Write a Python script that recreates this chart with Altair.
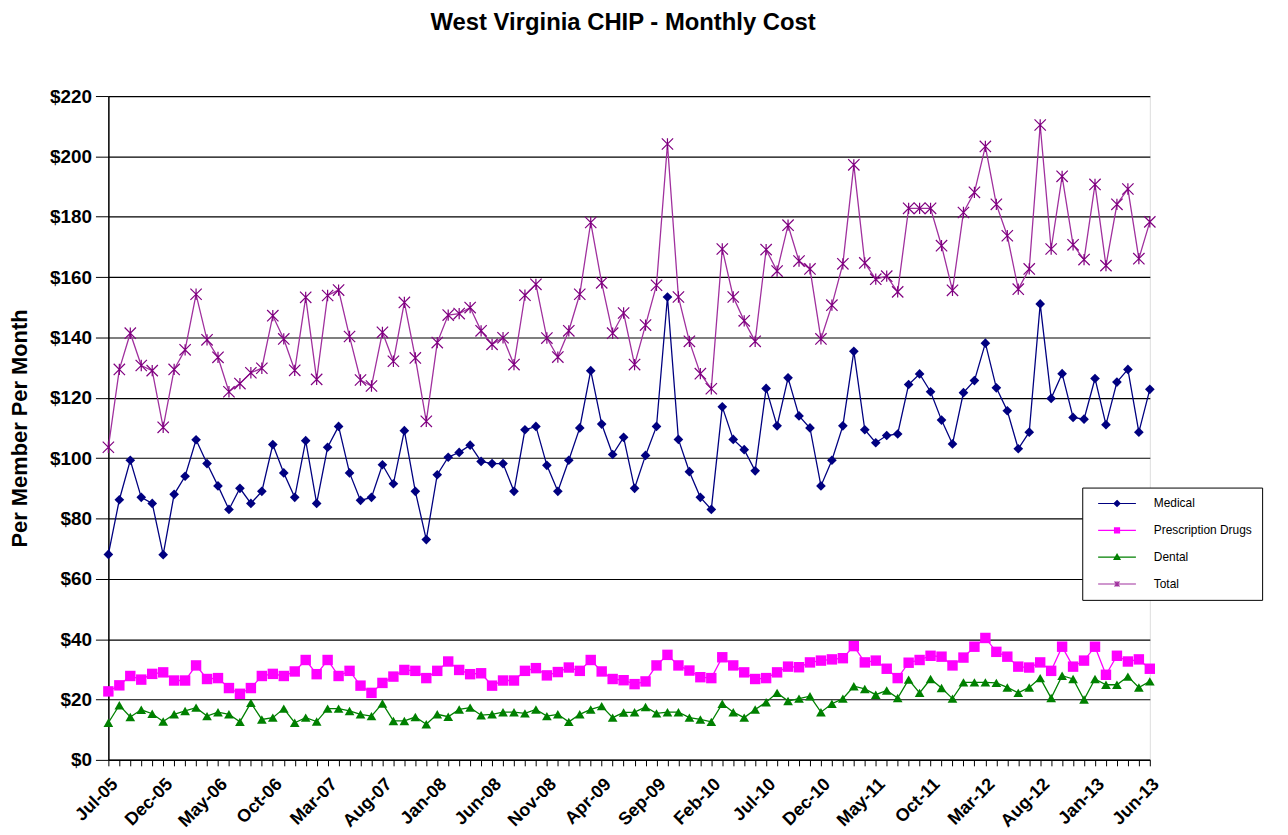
import altair as alt
import pandas as pd

# ---------------- data ----------------
series_names = ["Medical", "Prescription Drugs", "Dental", "Total"]

month_tick_labels = ["Jul-05", "Dec-05", "May-06", "Oct-06", "Mar-07", "Aug-07", "Jan-08",
                     "Jun-08", "Nov-08", "Apr-09", "Sep-09", "Feb-10", "Jul-10", "Dec-10",
                     "May-11", "Oct-11", "Mar-12", "Aug-12", "Jan-13", "Jun-13"]

medical = [68.1, 86.2, 99.3, 87.0, 85.0, 68.0, 88.0, 94.0, 106.1, 98.2,
           90.8, 83.0, 90.0, 85.0, 89.0, 104.5, 95.1, 87.0, 105.8, 85.0,
           103.6, 110.5, 95.1, 86.0, 87.0, 97.8, 91.5, 109.1, 89.0, 73.0,
           94.5, 100.3, 101.9, 104.3, 98.9, 98.2, 98.2, 89.0, 109.4, 110.5,
           97.6, 89.0, 99.3, 110.0, 129.0, 111.3, 101.2, 106.9, 90.0, 100.9,
           110.5, 153.4, 106.2, 95.5, 87.0, 83.0, 117.0, 106.2, 102.8, 95.8,
           123.1, 110.7, 126.6, 114.0, 110.0, 90.8, 99.3, 110.7, 135.4, 109.4,
           105.1, 107.5, 108.0, 124.4, 127.9, 122.0, 112.6, 104.7, 121.7, 125.7,
           138.1, 123.3, 115.7, 103.1, 108.6, 151.1, 119.8, 128.0, 113.5, 112.9,
           126.4, 111.1, 125.2, 129.4, 108.6, 122.8]

prescription = [22.7, 24.7, 27.8, 26.6, 28.5, 29.0, 26.3, 26.3, 31.3, 26.8,
                27.1, 23.8, 21.9, 23.8, 27.8, 28.5, 27.8, 29.3, 33.1, 28.4,
                33.1, 27.8, 29.5, 24.6, 22.2, 25.5, 27.6, 29.8, 29.5, 27.1,
                29.5, 32.6, 29.8, 28.4, 28.7, 24.6, 26.3, 26.3, 29.5, 30.4,
                28.0, 29.1, 30.6, 29.5, 33.1, 29.3, 26.8, 26.4, 25.1, 26.0,
                31.3, 34.8, 31.3, 29.6, 27.4, 27.1, 34.0, 31.3, 29.0, 26.8,
                27.1, 29.0, 30.9, 30.7, 32.3, 32.9, 33.3, 33.7, 37.7, 32.3,
                32.9, 30.2, 27.1, 32.2, 33.1, 34.5, 34.2, 31.3, 33.9, 37.5,
                40.4, 35.8, 34.2, 30.9, 30.6, 32.3, 29.5, 37.5, 30.9, 32.9,
                37.5, 28.2, 34.5, 32.6, 33.3, 30.2]

dental = [12.3, 18.1, 14.2, 16.6, 15.3, 12.7, 15.1, 16.2, 17.3, 14.5,
          15.8, 15.1, 12.6, 18.9, 13.4, 14.0, 17.0, 12.3, 14.0, 12.7,
          17.0, 17.0, 16.2, 15.1, 14.5, 18.7, 12.9, 12.9, 14.2, 11.8,
          15.1, 14.3, 16.7, 17.3, 14.8, 15.1, 15.8, 15.8, 15.4, 16.7,
          14.5, 15.1, 12.6, 15.1, 16.7, 17.8, 14.0, 15.7, 15.8, 17.5,
          15.4, 15.8, 15.8, 14.0, 13.4, 12.6, 18.6, 15.8, 14.0, 16.7,
          19.1, 22.2, 19.5, 20.3, 21.1, 15.8, 18.6, 20.3, 24.4, 23.5,
          21.6, 23.0, 20.5, 26.6, 22.2, 26.8, 23.8, 20.3, 25.7, 25.7,
          25.7, 25.5, 24.0, 22.2, 24.0, 27.1, 20.5, 27.9, 26.8, 20.0,
          26.8, 24.9, 24.9, 27.6, 24.0, 26.0]

total = [103.6, 129.4, 141.4, 130.7, 129.0, 110.2, 129.4, 135.9, 154.3, 139.2,
         133.4, 122.0, 124.7, 128.3, 129.8, 147.2, 139.5, 129.1, 153.3, 126.1,
         153.9, 155.7, 140.3, 125.9, 123.9, 141.7, 132.1, 151.6, 133.2, 112.2,
         138.3, 147.4, 147.9, 149.9, 142.2, 137.7, 139.9, 131.0, 154.0, 157.6,
         139.8, 133.5, 142.2, 154.3, 178.1, 158.1, 141.4, 148.1, 131.0, 144.1,
         157.3, 204.1, 153.4, 138.7, 128.0, 123.0, 169.3, 153.4, 145.5, 138.7,
         169.1, 162.0, 177.2, 165.3, 162.7, 139.5, 150.7, 164.4, 197.2, 164.7,
         159.3, 160.3, 155.1, 182.8, 182.8, 182.8, 170.4, 155.6, 181.4, 188.1,
         203.3, 184.1, 173.7, 156.0, 162.7, 210.4, 169.3, 193.4, 170.7, 165.8,
         190.7, 163.8, 184.1, 189.2, 166.1, 178.3]

y_ticks = [0, 20, 40, 60, 80, 100, 120, 140, 160, 180, 200, 220]

# ---------------- table ----------------
series_values = [medical, prescription, dental, total]
rows = []
for name, vals in zip(series_names, series_values):
    for i, v in enumerate(vals):
        rows.append({"month": i, "series": name, "value": v})
df = pd.DataFrame(rows)
n_months = len(medical)

# ---------------- styles ----------------
FONT = "Liberation Sans"
line_colors = ["#000080", "#FF00FF", "#008000", "#A0309E"]
marker_colors = ["#000080", "#FF00FF", "#008000", "#800080"]
marker_shapes = ["diamond", "square", "triangle-up", "M-1,-1L1,1M-1,1L1,-1M0,-1L0,1"]
marker_sizes = [95, 110, 95, 130]
marker_filled = [True, True, True, False]
color_scale = alt.Scale(domain=series_names, range=line_colors)

# legend symbols: a line with the series marker on it
legend_paths = [
    "M-3.8,0L3.8,0M0,-0.6L0.6,0L0,0.6L-0.6,0ZM0,-0.3L0.3,0L0,0.3L-0.3,0Z",
    "M-3.8,0L3.8,0M-0.5,-0.5L0.5,-0.5L0.5,0.5L-0.5,0.5ZM-0.25,-0.25L0.25,-0.25L0.25,0.25L-0.25,0.25Z",
    "M-3.8,0L3.8,0M0,-0.6L0.6,0.45L-0.6,0.45ZM0,-0.2L0.3,0.3L-0.3,0.3Z",
    "M-3.8,0L3.8,0M-0.5,-0.5L0.5,0.5M-0.5,0.5L0.5,-0.5M0,-0.55L0,0.55",
]

label_array = "[" + ",".join("'" + s + "'" for s in month_tick_labels) + "]"

x_enc = alt.X(
    "month:Q",
    scale=alt.Scale(domain=[0, n_months - 1], nice=False, zero=False),
    axis=alt.Axis(
        values=list(range(n_months)),
        labelExpr=f"datum.value % 5 == 0 ? {label_array}[datum.value / 5] : ''",
        labelAngle=-45, labelAlign="right", labelBaseline="top",
        labelFont=FONT, labelFontSize=18, labelFontWeight="bold", labelColor="black",
        labelOverlap=False, labelFlush=False, labelPadding=9,
        tickSize=6, tickColor="black", tickWidth=1,
        domainColor="black", domainWidth=1.5, grid=False, title=None,
    ),
)
y_enc = alt.Y(
    "value:Q",
    scale=alt.Scale(domain=[0, 220], nice=False),
    axis=alt.Axis(
        values=y_ticks, format="$,.0f",
        labelFont=FONT, labelFontSize=19, labelFontWeight="bold", labelColor="black",
        labelPadding=4, tickSize=13, tickColor="black",
        domainColor="black", domainWidth=1.5,
        grid=True, gridColor="black", gridWidth=1.2,
        title="Per Member Per Month", titleFont=FONT, titleFontSize=22,
        titleFontWeight="bold", titleColor="black", titlePadding=18,
    ),
)

line_layers = []
point_layers = []
for i, name in enumerate(series_names):
    base = alt.Chart(df).transform_filter(alt.datum.series == name)
    line_layers.append(
        base.mark_line(strokeWidth=1.3, color=line_colors[i]).encode(x=x_enc, y=y_enc)
    )
    point_layers.append(
        base.mark_point(shape=marker_shapes[i], size=marker_sizes[i],
                        filled=marker_filled[i], color=marker_colors[i], opacity=1,
                        strokeWidth=1.2).encode(x=x_enc, y=y_enc)
    )

leg = alt.Legend(
    title=None, orient="none", legendX=980, legendY=394,
    fillColor="white", strokeColor="black", cornerRadius=0,
    padding=10, rowPadding=15, symbolSize=100, symbolOffset=19, labelOffset=31,
    labelFont=FONT, labelFontSize=12, labelColor="black",
    symbolStrokeWidth=1.2, symbolOpacity=1,
)
# legend-only layer: its points are placed below the view and clipped away
legend_layer = alt.Chart(df).transform_calculate(hidden="-100").mark_point(
    filled=False, opacity=1, clip=True
).encode(
    x=x_enc,
    y=alt.Y("hidden:Q", scale=alt.Scale(domain=[0, 220], nice=False)),
    color=alt.Color("series:N", scale=color_scale, legend=leg),
    shape=alt.Shape("series:N", scale=alt.Scale(domain=series_names, range=legend_paths),
                    legend=leg),
)

chart = alt.layer(*line_layers, *point_layers, legend_layer).properties(
    width=1048, height=668,
    title=alt.TitleParams("West Virginia CHIP - Monthly Cost", font=FONT, fontSize=24,
                          fontWeight="bold", color="black", anchor="middle", offset=52,
                          dx=-6),
    autosize=alt.AutoSizeParams(type="none"),
    padding={"left": 101, "top": 86, "right": 131, "bottom": 72},
).configure_view(stroke="black", strokeWidth=1).configure(background="white")

chart.save("out.html", embed_options={"renderer": "svg", "actions": False})
